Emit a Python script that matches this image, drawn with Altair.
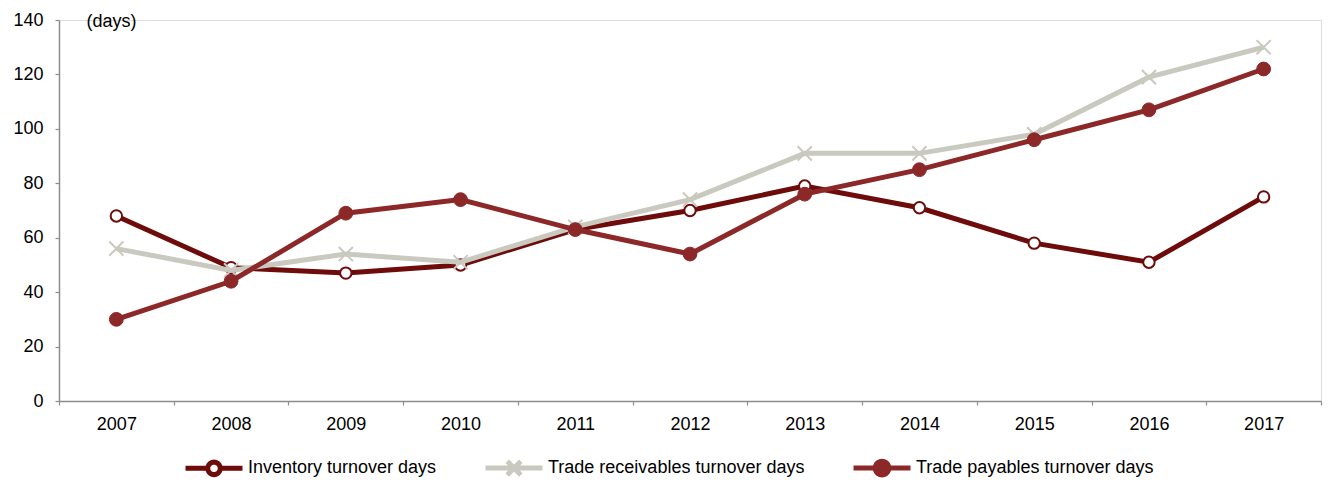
import math
import altair as alt
import pandas as pd

years = [str(y) for y in range(2007, 2018)]
inventory = [68, 49, 47, 50, 63, 70, 79, 71, 58, 51, 75]
receivables = [56, 48, 54, 51, 64, 74, 91, 91, 98, 119, 130]
payables = [30, 44, 69, 74, 63, 54, 76, 85, 96, 107, 122]
series = ["Inventory turnover days", "Trade receivables turnover days", "Trade payables turnover days"]
colors = ["#6E0B0B", "#C9C9BF", "#8C2828"]
legend_fills = ["white", "#C9C9BF", "#8C2828"]

rows = []
for name, vals in zip(series, [inventory, receivables, payables]):
    for y, v in zip(years, vals):
        rows.append({"year": y, "value": v, "series": name})
df = pd.DataFrame(rows)

FONT = "Liberation Sans"


def ring(r, n=20):
    pts = [(r * math.cos(2 * math.pi * k / n), r * math.sin(2 * math.pi * k / n)) for k in range(n)]
    return "M" + "L".join(f"{px:.3f},{py:.3f}" for px, py in pts) + "Z"


inv_path = "M-1,0L-0.22,0M0.22,0L1,0" + ring(0.22)
rec_path = "M-1,0L1,0M-0.24,-0.24L0.24,0.24M-0.24,0.24L0.24,-0.24"
pay_path = "M-1,0L1,0" + ring(0.24)
legend_paths = [inv_path, rec_path, pay_path]

x_enc = alt.X(
    "year:O",
    bandPosition=0.5,
    scale=alt.Scale(type="band", paddingInner=0, paddingOuter=0),
    axis=alt.Axis(
        title=None, labelAngle=0, tickBand="extent", domainColor="#8C8C8C",
        tickColor="#8C8C8C", domainWidth=1.5, tickWidth=1.2, tickSize=4,
        labelFontSize=18, labelFont=FONT, labelColor="black", labelPadding=10,
    ),
)
y_axis = alt.Axis(
    values=list(range(0, 141, 20)), grid=False, domainColor="#8C8C8C",
    tickColor="#8C8C8C", domainWidth=1.5, tickWidth=1.2, tickSize=4,
    labelFontSize=18, labelFont=FONT, labelColor="black", labelPadding=12,
    title="(days)", titleAngle=0, titleX=27, titleY=1, titleAlign="left",
    titleBaseline="middle", titleFontSize=18, titleFont=FONT,
    titleFontWeight="normal", titleColor="black",
)
y_scale = alt.Scale(domain=[0, 140], nice=False)
y_enc = alt.Y("value:Q", scale=y_scale, axis=y_axis)
color_scale = alt.Scale(domain=series, range=colors)

legend_def = alt.Legend(
    title=None, orient="none", legendX=124, legendY=417, direction="horizontal",
    labelFontSize=18, labelFont=FONT, labelColor="black", labelLimit=400,
    symbolStrokeWidth=5, labelOffset=3, columnPadding=38, symbolSize=3249,
    symbolOpacity=1,
)

base = alt.Chart(df)
layers = []
point_specs = [
    dict(shape="circle", size=130, filled=True, fill="white", stroke=colors[0], strokeWidth=2),
    dict(shape="M-1,-1L1,1M-1,1L1,-1", size=200, filled=False, stroke=colors[1], strokeWidth=2),
    dict(shape="circle", size=190, filled=True, fill=colors[2], stroke=colors[2], strokeWidth=1),
]
for i, name in enumerate(series):
    sub = base.transform_filter(alt.datum.series == name)
    line = sub.mark_line(strokeWidth=5).encode(
        x=x_enc, y=y_enc,
        color=alt.Color("series:N", scale=color_scale, legend=legend_def),
    )
    pts = sub.mark_point(opacity=1, **point_specs[i]).encode(x=x_enc, y=y_enc)
    layers += [line, pts]

# legend-only layer: its marks lie below the visible y range and are clipped away
legend_layer = base.transform_calculate(off="-1000").mark_point(
    filled=True, size=3249, strokeWidth=5, opacity=1, clip=True
).encode(
    x=x_enc,
    y=alt.Y("off:Q", scale=y_scale, axis=y_axis),
    shape=alt.Shape("series:N", scale=alt.Scale(domain=series, range=legend_paths), legend=legend_def),
    fill=alt.Fill("series:N", scale=alt.Scale(domain=series, range=legend_fills), legend=legend_def),
)
layers.append(legend_layer)

chart = alt.layer(*layers).properties(
    width=1262, height=381,
    autosize=alt.AutoSizeParams(type="none"),
    padding={"left": 59, "top": 20, "right": 11, "bottom": 81},
).configure_view(stroke=None).configure(font=FONT)

chart.save("out.html", embed_options={"renderer": "svg", "actions": False})
